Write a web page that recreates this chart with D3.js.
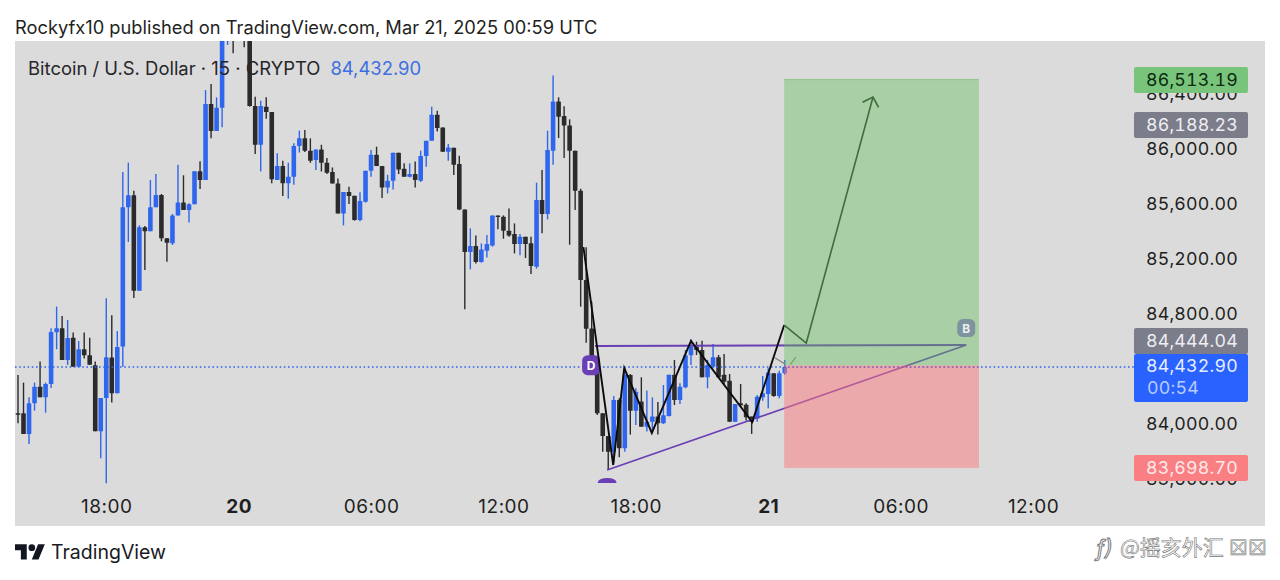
<!DOCTYPE html>
<html><head><meta charset="utf-8">
<script src="https://cdn.jsdelivr.net/npm/d3@7/dist/d3.min.js"></script>
<style>
html,body{margin:0;padding:0;background:#fff;overflow:hidden}
text{font-family:Inter,"Noto Sans",sans-serif}
</style></head><body><svg id="c" width="1280" height="580"></svg>
<script>
// 15-minute bars starting Mar 19 14:00 UTC
const opens=[84096,84096,83946,84169,84290,84212,84309,84685,84714,84484,84646,84435,84562,84518,84445,83965,84208,84501,84242,84581,85594,85681,84988,85449,85420,85594,85684,85369,85332,85534,85630,85575,85616,85856,85793,86346,86149,86319,86880,87000,86830,87080,86860,86331,86050,86326,86287,85793,85895,85769,85817,86040,86096,86006,85938,86015,85918,85851,85768,85550,85705,85678,85501,85635,85860,85977,85894,85739,85788,85991,85875,85817,85836,85788,85967,86078,86267,86175,85998,86027,85909,85579,85269,85312,85196,85278,85317,85535,85526,85424,85400,85327,85380,85332,85162,85647,85545,86006,86364,86258,86190,86006,85715,85065,84712,84459,84096,83931,83817,84193,83841,84375,84115,84181,83999,84035,84072,84023,84076,84377,84193,84285,84518,84581,84556,84358,84435,84503,84377,84333,84035,84169,84159,84072,84059,84212,84236,84387,84222,84387];
const highs=[84375,84319,84212,84319,84472,84319,84714,84872,84804,84775,84683,84622,84683,84646,84472,84208,84932,84809,84695,85851,85919,85715,85463,85458,85793,85837,85691,85369,85546,85904,85827,85623,85856,85929,86447,86491,86394,86956,87050,87100,87150,87180,86950,86399,86370,86394,86287,85987,85933,85919,86060,86152,86157,86095,86015,86049,85952,85884,85804,85705,85744,85678,85703,85860,86011,86035,85894,85831,85991,85991,85914,85914,85928,86006,86078,86326,86297,86175,86054,86027,85969,85579,85441,85390,85332,85392,85535,85535,85535,85586,85477,85400,85380,85380,85773,85865,86151,86553,86394,86330,86234,86006,85729,85303,84908,84471,84096,83931,84222,84205,84435,84382,84278,84358,84261,84212,84178,84302,84377,84484,84314,84556,84634,84617,84624,84484,84600,84520,84527,84382,84164,84309,84169,84072,84229,84367,84423,84387,84406,84484];
const lows=[84023,83946,83873,84115,84212,84101,84280,84562,84484,84448,84435,84435,84494,84450,83965,83769,83587,84174,84242,84435,85342,84935,84988,85138,85420,85594,85347,85199,85320,85534,85575,85483,85616,85727,85793,86096,86149,86176,86775,86714,86820,86758,86326,85982,85854,86239,85769,85793,85677,85657,85759,85992,85997,85918,85865,85855,85836,85768,85550,85463,85618,85497,85492,85628,85817,85894,85661,85695,85724,85836,85817,85812,85739,85778,85889,86078,86146,85998,85933,85829,85574,84852,85143,85186,85191,85230,85308,85434,85366,85380,85259,85245,85225,85109,85148,85405,85506,85904,86098,85952,85322,85574,84871,84609,84399,84084,83817,83684,83732,83776,83817,83941,84011,83999,83963,83963,83941,84018,84072,84156,84164,84278,84447,84520,84358,84278,84423,84350,84309,84035,84035,84144,84043,83946,84035,84188,84132,84217,84205,84375];
const closes=[84086,83946,84169,84290,84212,84309,84688,84714,84484,84644,84435,84562,84518,84450,83965,84208,84503,84242,84578,85594,85681,84988,85449,85420,85594,85684,85369,85337,85534,85630,85575,85616,85856,85793,86346,86149,86319,86884,87000,86830,87080,86860,86331,86050,86331,86287,85798,85895,85769,85817,86040,86096,86006,85933,86015,85918,85846,85768,85550,85705,85676,85501,85640,85860,85977,85894,85739,85788,85991,85870,85817,85836,85792,85967,86078,86267,86171,85998,86030,85904,85579,85269,85312,85196,85288,85327,85535,85526,85424,85390,85327,85380,85327,85167,85647,85545,86011,86364,86253,86190,86006,85715,85065,84711,84459,84096,83931,83817,84193,83841,84375,84115,84253,83999,84035,84072,84023,84081,84377,84193,84290,84518,84581,84556,84358,84447,84503,84358,84326,84035,84164,84154,84067,84035,84217,84241,84392,84222,84387,84433];

const priceTicks=[83600,84000,84400,84800,85200,85600,86000,86400];
const timeTickBars=[16,40,64,88,112,136,160,184];
const timeTickLabels=["18:00","20","06:00","12:00","18:00","21","06:00","12:00"];
const boldTimeLabels=["20","21"];

const title="Rockyfx10 published on TradingView.com, Mar 21, 2025 00:59 UTC";
const symbol="Bitcoin / U.S. Dollar · 15 · CRYPTO";
const lastPrice=84432.90;
const countdown="00:54";

// drawing tool anchors: bar index / price
const zigzagBars=[102.5,107.9,109.9,114.9,122,133.1,138.9];
const zigzagPrices=[85305,83720,84425,83953,84622,84033,84738];
const arrowBars=[138.9,142.9,155.0];
const arrowPrices=[84738,84607,86396];
const arrowHeadBars=[153.1,155.0,156.0];
const arrowHeadPrices=[86358,86396,86321];
const topLineBars=[104.6,171.9];
const topLinePrices=[84585,84593];
const slopeLineBars=[106.8,171.9];
const slopeLinePrices=[83684,84593];
const entryPrice=84444.04, targetPrice=86513.19, stopPrice=83698.70, otherPrice=86188.23;
const boxBars=[138.9,174.2];

const C={bg:"#dbdbdb",up:"#2f66ee",down:"#2b2b2b",purple:"#6a3fb5",ink:"#1f1f22"};
const svg=d3.select("#c");
const plot={l:15,r:1265,t:41,b:526};
const x=d3.scaleLinear().domain([0,184]).range([18,1033]);
const y=d3.scaleLinear().domain([84000,86000]).range([426.5,151.5]);

svg.append("defs").append("clipPath").attr("id","pc").append("rect")
  .attr("x",plot.l).attr("y",plot.t).attr("width",plot.r-plot.l).attr("height",plot.b-plot.t);

svg.append("rect").attr("x",plot.l).attr("y",plot.t).attr("width",plot.r-plot.l).attr("height",plot.b-plot.t).attr("fill",C.bg);

svg.append("text").attr("x",15).attr("y",33.5).attr("font-size",18.3).attr("fill",C.ink).text(title);

const g=svg.append("g").attr("clip-path","url(#pc)");

// candles
const idx=d3.range(opens.length);
const col=i=>closes[i]>=opens[i]?C.up:C.down;
g.append("g").selectAll("line").data(idx).join("line")
  .attr("x1",x).attr("x2",x).attr("y1",i=>y(highs[i])).attr("y2",i=>y(lows[i]))
  .attr("stroke",col).attr("stroke-width",1.4);
g.append("g").selectAll("rect").data(idx).join("rect")
  .attr("x",i=>x(i)-2.3).attr("width",4.6)
  .attr("y",i=>y(Math.max(opens[i],closes[i])))
  .attr("height",i=>Math.max(1.5,Math.abs(y(opens[i])-y(closes[i]))))
  .attr("rx",.5).attr("fill",col);

// last-price dotted line
g.append("line").attr("x1",plot.l).attr("x2",1134).attr("y1",y(lastPrice)).attr("y2",y(lastPrice))
  .attr("stroke",C.up).attr("stroke-width",1.3).attr("stroke-dasharray","1.6 2.6");

// pattern markers
const mark=(bar,price,w,h,fill,txt,col)=>{
  const px=x(bar),py=y(price);
  g.append("rect").attr("x",px-w/2).attr("y",py-h/2).attr("width",w).attr("height",h).attr("rx",5.5).attr("fill",fill);
  g.append("text").attr("x",px).attr("y",py+4.5).attr("text-anchor","middle").attr("font-size",12).attr("font-weight",700).attr("fill",col).text(txt);
};
mark(103.9,84446,18,20,C.purple,"D","#fff");
g.append("path").attr("d",`M${x(106.8)-9.5},${y(83590)} a9.5,5 0 0 1 19,0 z`).attr("fill",C.purple);

// pattern lines
const line=d3.line().x(d=>x(d[0])).y(d=>y(d[1]));
g.append("path").attr("d",line(d3.zip(topLineBars,topLinePrices))).attr("fill","none").attr("stroke",C.purple).attr("stroke-width",2);
g.append("path").attr("d",line(d3.zip(slopeLineBars,slopeLinePrices))).attr("fill","none").attr("stroke",C.purple).attr("stroke-width",1.7);
g.append("path").attr("d",line(d3.zip(zigzagBars,zigzagPrices))).attr("fill","none").attr("stroke","#0c0c0c").attr("stroke-width",1.9).attr("stroke-linejoin","miter");
g.append("path").attr("d",line(d3.zip(arrowBars,arrowPrices))).attr("fill","none").attr("stroke","#2a3a2a").attr("stroke-width",1.6);
g.append("path").attr("d",line(d3.zip(arrowHeadBars,arrowHeadPrices))).attr("fill","none").attr("stroke","#2a3a2a").attr("stroke-width",1.7);
// small chevron near last bar
g.append("path").attr("d",line([[137.2,84500],[139,84455]])).attr("fill","none").attr("stroke","#888").attr("stroke-width",1.4);
g.append("path").attr("d",line([[140,84450],[141,84505]])).attr("fill","none").attr("stroke","#7a9a78").attr("stroke-width",1.2);

// position boxes above the lines
const bx=x(boxBars[0]), bw=x(boxBars[1])-x(boxBars[0]);
g.append("rect").attr("x",bx).attr("width",bw)
  .attr("y",y(targetPrice)-2).attr("height",y(entryPrice)-y(targetPrice)+2).attr("fill","rgba(92,190,88,.4)");
g.append("rect").attr("x",bx).attr("width",bw).attr("y",y(targetPrice)-2).attr("height",1.2).attr("fill","rgba(92,170,88,.25)");
g.append("rect").attr("x",bx).attr("width",bw)
  .attr("y",y(entryPrice)).attr("height",y(stopPrice)-y(entryPrice)).attr("fill","rgba(253,119,123,.5)");
g.append("line").attr("x1",bx).attr("x2",bx+bw).attr("y1",y(lastPrice)).attr("y2",y(lastPrice))
  .attr("stroke",C.purple).attr("stroke-opacity",.45).attr("stroke-width",1.3).attr("stroke-dasharray","1.6 2.6");
mark(171.9,84716,18,18,"#7f939e","B","#e8eef0");

// price axis
const pa=d3.axisRight(y).tickValues(priceTicks).tickSize(0).tickPadding(0).tickFormat(d=>d3.format(",.2f")(d));
const paG=svg.append("g").attr("transform","translate(1238,-3.5)").call(pa);
paG.select(".domain").remove();
paG.selectAll("text").attr("x",0).attr("text-anchor","end").attr("font-size",17.8).attr("letter-spacing",.2).attr("font-family","Inter,'Noto Sans',sans-serif").attr("fill",C.ink).style("font-feature-settings","'tnum'").attr("dy","0.38em");

// time axis
const ta=d3.axisBottom(x).tickValues(timeTickBars).tickSize(0).tickPadding(0).tickFormat((d,i)=>timeTickLabels[i]);
const taG=svg.append("g").attr("transform","translate(0,499)").call(ta);
taG.select(".domain").remove();
taG.selectAll("text").attr("font-size",19).attr("letter-spacing",.5).attr("font-family","Inter,'Noto Sans',sans-serif").attr("fill",C.ink)
  .attr("font-weight",d=>boldTimeLabels.includes(timeTickLabels[timeTickBars.indexOf(d)])?700:400);

// price labels
const tag=(price,top,h,fill,col,sub)=>{
  svg.append("rect").attr("x",1134).attr("y",top).attr("width",114).attr("height",h).attr("rx",2).attr("fill",fill);
  svg.append("text").attr("x",1238).attr("y",top+(sub?18:19)).attr("text-anchor","end").attr("font-size",17.8).attr("letter-spacing",.2).attr("fill",col).style("font-feature-settings","'tnum'").text(d3.format(",.2f")(price));
  if(sub) svg.append("text").attr("x",1147).attr("y",top+40).attr("font-size",17.8).attr("letter-spacing",.2).attr("fill","#b7ccff").style("font-feature-settings","'tnum'").text(sub);
};
tag(targetPrice,67,26,"#79c47b","#0d2a10");
tag(otherPrice,112,26,"#7c7d8a","#eeeef2");
tag(entryPrice,328,26,"#7c7d8a","#eeeef2");
tag(lastPrice,354,48,"#2962ff","#e6edff",countdown);
tag(stopPrice,455,26,"#f97f83","#ffe9ea");

// header
const hdr=svg.append("text").attr("x",28).attr("y",74.5).attr("font-size",18.45);
hdr.append("tspan").attr("fill","#26262a").text(symbol);
hdr.append("tspan").attr("dx",10).attr("fill","#3f6fe0").text(d3.format(",.2f")(lastPrice));

// footer brand
svg.append("path").attr("transform","translate(15,541) scale(.84)")
  .attr("d","M14 22H7V11H0V4h14v18zM28 22h-8l7.5-18h8L28 22z").attr("fill","#131722");
svg.append("circle").attr("transform","translate(15,541) scale(.84)").attr("cx",20).attr("cy",8).attr("r",4).attr("fill","#131722");
svg.append("text").attr("x",51).attr("y",558.5).attr("font-size",19.5).attr("fill","#1a1a1f").text("TradingView");

// watermark
const wm=svg.append("g").attr("fill","#fff").attr("stroke","#777").attr("stroke-width",.6);
wm.append("text").attr("x",1096).attr("y",556).attr("font-size",22).attr("font-style","italic").attr("stroke-width",1).text("ƒ)");
wm.append("text").attr("x",1120).attr("y",555).attr("font-size",21).attr("style","font-family:'Noto Sans CJK SC'").text("@摇亥外汇 ☒☒");
</script></body></html>
